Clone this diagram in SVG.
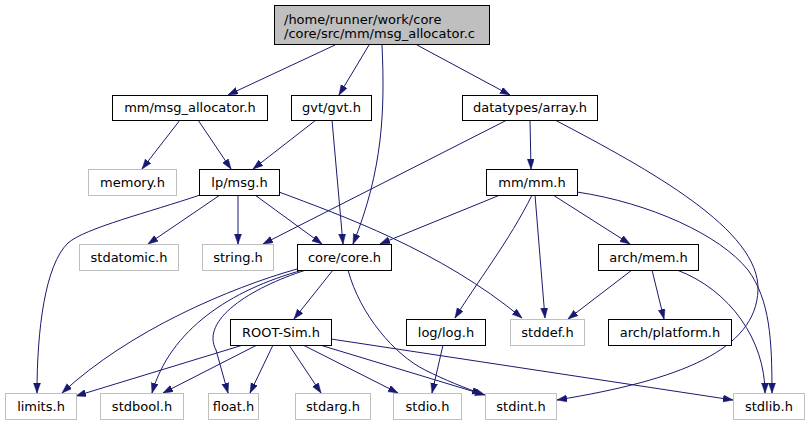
<svg xmlns="http://www.w3.org/2000/svg" width="809" height="425" viewBox="0 0 809 425">
<style>
text{font-family:"DejaVu Sans","Liberation Sans",sans-serif;font-size:13px;fill:#000;text-anchor:middle}
.n rect{fill:#fff;stroke:#000;stroke-width:1}
.g rect{fill:#fff;stroke:#bfbfbf;stroke-width:1}
.r rect{fill:#bfbfbf;stroke:#000;stroke-width:1}
#edges path{fill:none;stroke:#191970;stroke-width:1;marker-end:url(#ah)}
</style>
<defs>
<marker id="ah" markerUnits="userSpaceOnUse" markerWidth="11" markerHeight="8" refX="10" refY="3.5" orient="auto">
<path d="M0,0 L10,3.5 L0,7 z" fill="#191970" stroke="#191970" stroke-width="0.5"/>
</marker>
</defs>
<rect width="809" height="425" fill="#fff"/>
<g id="edges">
<path d="M335,45 L228,95"/>
<path d="M369,45 L339,95"/>
<path d="M382,45 C385,110 383,170 353,244"/>
<path d="M417,45 L510,95"/>
<path d="M180,120 L142,169"/>
<path d="M198,120 L231,169"/>
<path d="M316,120 L253,169"/>
<path d="M332,120 L343,244"/>
<path d="M507,120 L263,244"/>
<path d="M530,120 L531,169"/>
<path d="M555,120 C650,170 760,230 758,290 C756,350 680,380 557,400"/>
<path d="M200,195 C150,212 85,228 68,243 C45,265 37,330 37,393"/>
<path d="M220,195 L148,244"/>
<path d="M238,195 L238,244"/>
<path d="M255,195 L322,244"/>
<path d="M279,192 C340,215 440,250 522,318"/>
<path d="M500,195 L380,244"/>
<path d="M532,195 C510,240 475,285 455,318"/>
<path d="M535,195 L545,318"/>
<path d="M553,195 L630,244"/>
<path d="M577,192 C650,203 720,235 748,270 C770,300 772,340 772,393"/>
<path d="M297,269 C230,288 130,330 62,393"/>
<path d="M303,270 C230,290 170,330 152,393"/>
<path d="M306,270 C250,288 200,320 216,350 L228,393"/>
<path d="M333,270 L294,319"/>
<path d="M348,270 C360,315 395,355 425,370 C445,380 465,388 482,394"/>
<path d="M243,345 L76,396"/>
<path d="M257,345 L163,393"/>
<path d="M273,345 L250,393"/>
<path d="M289,345 L321,393"/>
<path d="M303,345 L398,393"/>
<path d="M320,345 L485,395"/>
<path d="M331,339 L733,400"/>
<path d="M443,345 L432,393"/>
<path d="M632,270 L568,319"/>
<path d="M652,270 L664,319"/>
<path d="M677,270 C730,290 765,340 765,393"/>
</g>
<g id="root" class="r"><rect x="274.5" y="5.5" width="215" height="39"/>
<text x="284" y="24" style="text-anchor:start">/home/runner/work/core</text>
<text x="284" y="38" style="text-anchor:start">/core/src/mm/msg_allocator.c</text></g>
<g id="msg_allocator_h" class="n"><rect x="112.5" y="95.5" width="155" height="25"/><text x="190" y="112">mm/msg_allocator.h</text></g>
<g id="gvt_h" class="n"><rect x="291.5" y="95.5" width="80" height="25"/><text x="331.5" y="112">gvt/gvt.h</text></g>
<g id="array_h" class="n"><rect x="462.5" y="95.5" width="135" height="25"/><text x="530" y="112">datatypes/array.h</text></g>
<g id="memory_h" class="g"><rect x="88.5" y="169.5" width="88" height="26"/><text x="132.5" y="187">memory.h</text></g>
<g id="msg_h" class="n"><rect x="199.5" y="169.5" width="80" height="26"/><text x="239.5" y="187">lp/msg.h</text></g>
<g id="mm_h" class="n"><rect x="486.5" y="169.5" width="91" height="26"/><text x="532" y="187">mm/mm.h</text></g>
<g id="stdatomic_h" class="g"><rect x="79.5" y="244.5" width="99" height="26"/><text x="129" y="262">stdatomic.h</text></g>
<g id="string_h" class="g"><rect x="202.5" y="244.5" width="71" height="26"/><text x="238" y="262">string.h</text></g>
<g id="core_h" class="n"><rect x="297.5" y="244.5" width="94" height="26"/><text x="344.5" y="262">core/core.h</text></g>
<g id="mem_h" class="n"><rect x="598.5" y="244.5" width="100" height="26"/><text x="648.5" y="262">arch/mem.h</text></g>
<g id="rootsim_h" class="n"><rect x="230.5" y="319.5" width="101" height="26"/><text x="281" y="337">ROOT-Sim.h</text></g>
<g id="log_h" class="n"><rect x="406.5" y="319.5" width="79" height="26"/><text x="446" y="337">log/log.h</text></g>
<g id="stddef_h" class="g"><rect x="510.5" y="319.5" width="74" height="26"/><text x="547.5" y="337">stddef.h</text></g>
<g id="platform_h" class="n"><rect x="608.5" y="319.5" width="123" height="26"/><text x="670" y="337">arch/platform.h</text></g>
<g id="limits_h" class="g"><rect x="5.5" y="393.5" width="71" height="26"/><text x="41" y="411">limits.h</text></g>
<g id="stdbool_h" class="g"><rect x="100.5" y="393.5" width="83" height="26"/><text x="142" y="411">stdbool.h</text></g>
<g id="float_h" class="g"><rect x="208.5" y="393.5" width="50" height="26"/><text x="233.5" y="411">float.h</text></g>
<g id="stdarg_h" class="g"><rect x="295.5" y="393.5" width="75" height="26"/><text x="333" y="411">stdarg.h</text></g>
<g id="stdio_h" class="g"><rect x="393.5" y="393.5" width="68" height="26"/><text x="427.5" y="411">stdio.h</text></g>
<g id="stdint_h" class="g"><rect x="485.5" y="393.5" width="71" height="26"/><text x="521" y="411">stdint.h</text></g>
<g id="stdlib_h" class="g"><rect x="733.5" y="393.5" width="71" height="26"/><text x="769" y="411">stdlib.h</text></g>
</svg>
